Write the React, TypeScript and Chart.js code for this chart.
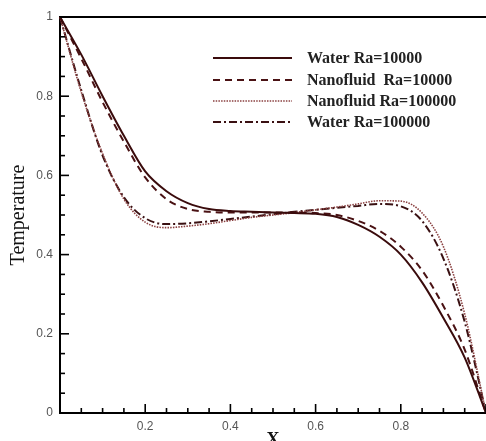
import React, { useEffect, useRef } from 'react';
import { Chart, registerables } from 'chart.js';

Chart.register(...registerables);

// ---- data ----
const xValues = [0, 0.05, 0.1, 0.15, 0.2, 0.25, 0.3, 0.35, 0.4, 0.45, 0.5, 0.55, 0.6, 0.65, 0.7, 0.75, 0.8, 0.85, 0.9, 0.95, 1.0];
const waterRa10000 = [1.0, 0.905, 0.8, 0.7, 0.61, 0.56, 0.53, 0.515, 0.51, 0.508, 0.506, 0.505, 0.503, 0.495, 0.475, 0.445, 0.4, 0.33, 0.24, 0.14, 0.0];
const nanoRa10000 = [1.0, 0.895, 0.785, 0.685, 0.595, 0.54, 0.515, 0.508, 0.506, 0.506, 0.506, 0.506, 0.505, 0.5, 0.485, 0.46, 0.42, 0.36, 0.27, 0.16, 0.0];
const nanoRa100000 = [1.0, 0.81, 0.655, 0.54, 0.482, 0.468, 0.472, 0.478, 0.486, 0.494, 0.5, 0.506, 0.513, 0.52, 0.528, 0.536, 0.535, 0.505, 0.42, 0.25, 0.0];
const waterRa100000 = [1.0, 0.815, 0.65, 0.545, 0.492, 0.477, 0.479, 0.484, 0.49, 0.496, 0.502, 0.508, 0.513, 0.518, 0.523, 0.528, 0.522, 0.485, 0.39, 0.23, 0.0];
const seriesLabels = ['Water Ra=10000', 'Nanofluid  Ra=10000', 'Nanofluid Ra=100000', 'Water Ra=100000'];
const yTickLabels = ['0', '0.2', '0.4', '0.6', '0.8', '1'];
const xTickLabels = ['', '0.2', '0.4', '0.6', '0.8', ''];
const xTitle = 'X';
const yTitle = 'Temperature';

const toPoints = (ys: number[]) => xValues.map((x, i) => ({ x, y: ys[i] }));

const styles = [
  { color: '#3a0b0c', width: 2, dash: [] as number[] },
  { color: '#4a1214', width: 2, dash: [7, 5] },
  { color: '#8a4040', width: 1.6, dash: [1.5, 1.2] },
  { color: '#3a1012', width: 2, dash: [8, 3, 2, 3] },
];

const decorPlugin = {
  id: 'decor',
  afterDraw(chart: any) {
    const ctx = chart.ctx as CanvasRenderingContext2D;
    const xs = chart.scales.x;
    const ys = chart.scales.y;
    const ca = chart.chartArea;
    ctx.save();
    // top border
    ctx.strokeStyle = '#000';
    ctx.lineWidth = 2;
    ctx.beginPath();
    ctx.moveTo(ca.left, ca.top);
    ctx.lineTo(ca.right, ca.top);
    ctx.stroke();
    // inward ticks
    ctx.lineWidth = 1.6;
    for (let i = 0; i <= 20; i++) {
      const v = i / 20;
      const major = i % 4 === 0;
      const len = major ? 9 : 5;
      const px = xs.getPixelForValue(v);
      ctx.beginPath();
      ctx.moveTo(px, ca.bottom);
      ctx.lineTo(px, ca.bottom - len);
      ctx.stroke();
      const py = ys.getPixelForValue(v);
      ctx.beginPath();
      ctx.moveTo(ca.left, py);
      ctx.lineTo(ca.left + len, py);
      ctx.stroke();
    }
    // legend
    const lx0 = 213, lx1 = 292, tx = 307;
    const rowY = [58, 80, 101, 122];
    ctx.font = 'bold 16px "Liberation Serif", serif';
    ctx.textBaseline = 'middle';
    ctx.textAlign = 'left';
    chart.data.datasets.forEach((ds: any, i: number) => {
      const st = styles[i];
      ctx.strokeStyle = st.color;
      ctx.lineWidth = st.width;
      ctx.setLineDash(st.dash);
      ctx.beginPath();
      ctx.moveTo(lx0, rowY[i]);
      ctx.lineTo(lx1, rowY[i]);
      ctx.stroke();
      ctx.setLineDash([]);
      ctx.fillStyle = '#222';
      ctx.fillText(ds.label, tx, rowY[i] + 1);
    });
    // axis titles
    ctx.fillStyle = '#111';
    ctx.font = 'bold 18px "Liberation Serif", serif';
    ctx.textAlign = 'center';
    ctx.textBaseline = 'alphabetic';
    ctx.fillText(xTitle, xs.getPixelForValue(0.5), 445);
    ctx.translate(24, 215);
    ctx.rotate(-Math.PI / 2);
    ctx.font = '20px "Liberation Serif", serif';
    ctx.fillText(yTitle, 0, 0);
    ctx.restore();
  },
};

export default function App() {
  const ref = useRef<HTMLCanvasElement | null>(null);
  useEffect(() => {
    if (!ref.current) return;
    const chart = new Chart(ref.current, {
      type: 'line',
      data: {
        datasets: [waterRa10000, nanoRa10000, nanoRa100000, waterRa100000].map((ys, i) => ({
          label: seriesLabels[i],
          data: toPoints(ys),
          borderColor: styles[i].color,
          borderWidth: styles[i].width,
          borderDash: styles[i].dash,
          pointRadius: 0,
          fill: false,
          cubicInterpolationMode: 'monotone' as const,
          clip: false as any,
        })),
      },
      options: {
        animation: false,
        responsive: true,
        maintainAspectRatio: false,
        layout: { padding: { top: 17, left: 0, right: 0, bottom: 0 } },
        plugins: { legend: { display: false }, tooltip: { enabled: false } },
        scales: {
          x: {
            type: 'linear',
            min: 0,
            max: 1,
            grid: { display: false, drawTicks: false },
            border: { display: true, color: '#000', width: 2 },
            ticks: {
              stepSize: 0.2,
              padding: 6,
              color: '#555',
              font: { family: '"Liberation Sans", Arial, sans-serif', size: 12 },
              callback: (_v: any, i: number) => xTickLabels[i] ?? '',
              maxRotation: 0,
              autoSkip: false,
            },
            afterFit: (s: any) => { s.height = 28; s.paddingLeft = 0; s.paddingRight = 0; },
          },
          y: {
            type: 'linear',
            min: 0,
            max: 1,
            grid: { display: false, drawTicks: false },
            border: { display: true, color: '#000', width: 2 },
            ticks: {
              stepSize: 0.2,
              padding: 7,
              color: '#555',
              font: { family: '"Liberation Sans", Arial, sans-serif', size: 12 },
              callback: (_v: any, i: number) => yTickLabels[i] ?? '',
              autoSkip: false,
            },
            afterFit: (s: any) => { s.width = 60; s.paddingTop = 0; s.paddingBottom = 0; },
          },
        },
      },
      plugins: [decorPlugin],
    });
    return () => chart.destroy();
  }, []);
  return (
    <div style={{ position: 'absolute', left: 0, top: 0, width: 486, height: 441, background: '#fff' }}>
      <canvas ref={ref} />
    </div>
  );
}
